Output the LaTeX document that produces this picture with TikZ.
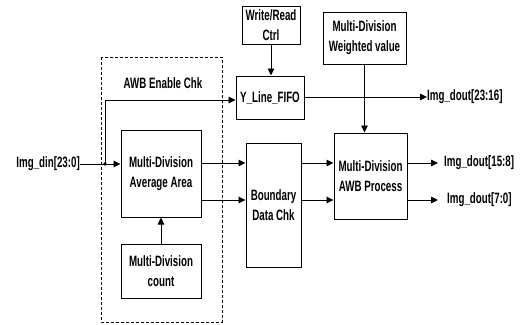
\documentclass[tikz,border=0pt]{standalone}
\usepackage{fontspec}
\setmainfont{Liberation Sans}[FakeStretch=0.65]
\usetikzlibrary{arrows.meta,calc}
\begin{document}
\begin{tikzpicture}[x=1pt,y=-1pt,
  lbl/.style={font=\bfseries\fontsize{15}{20}\selectfont, inner sep=0pt},
  blk/.style={draw, line width=1pt, align=center, lbl},
  arr/.style={line width=0.9pt, -{Triangle[length=7pt,width=6.5pt]}},
  ln/.style={line width=0.9pt}]
\useasboundingbox (0,0) rectangle (529,324);
% dashed enclosure
\draw[dashed, line width=0.8pt, dash pattern=on 3pt off 2pt] (101,57) rectangle (222,322);
\node[lbl] (en) at (163,83) {AWB Enable Chk};
% blocks
\node[blk, minimum width=58pt, minimum height=38pt] (wr) at (271,25) {Write/Read\\Ctrl};
\node[blk, minimum width=68pt, minimum height=43pt] (fifo) at (270,97.5) {Y\_Line\_FIFO};
\node[blk, minimum width=83pt, minimum height=52pt] (wv) at (364.5,38) {Multi-Division\\Weighted value};
\node[blk, minimum width=73pt, minimum height=86pt] (awb) at (370.5,176) {Multi-Division\\AWB Process};
\node[blk, minimum width=80pt, minimum height=87pt] (avg) at (161,173.5) {Multi-Division\\Average Area};
\node[blk, minimum width=55pt, minimum height=124pt] (bnd) at (273.5,205) {Boundary\\Data Chk};
\node[blk, minimum width=80pt, minimum height=54pt] (cnt) at (161,271) {Multi-Division\\count};
% texts
\node[lbl, anchor=east] (din) at (80,164) {Img\_din[23:0]};
\node[lbl, anchor=west] (o1) at (427,97) {Img\_dout[23:16]};
\node[lbl, anchor=west] (o2) at (444,163) {Img\_dout[15:8]};
\node[lbl, anchor=west] (o3) at (447,200) {Img\_dout[7:0]};
% helper coordinates
\coordinate (ya) at (0,163);
\coordinate (yb) at (0,200);
\coordinate (yf) at (0,100);
\coordinate (jn) at (105,164);
\coordinate (ta) at (438,163);
\coordinate (tb) at (438,200);
% connectors
\draw[arr] (din.east) -- (avg.west |- din.east);
\fill (jn) circle (1.8pt);
\draw[arr] (jn) -- (jn |- yf) -- (fifo.west |- yf);
\draw[arr] (wr.south) -- (fifo.north -| wr.south);
\draw[arr] (fifo.east |- o1.west) -- (o1.west);
\draw[arr] (wv.south) -- (awb.north -| wv.south);
\draw[arr] (avg.east |- ya) -- (bnd.west |- ya);
\draw[arr] (avg.east |- yb) -- (bnd.west |- yb);
\draw[arr] (bnd.east |- ya) -- (awb.west |- ya);
\draw[arr] (bnd.east |- yb) -- (awb.west |- yb);
\draw[arr] (awb.east |- ta) -- (ta);
\draw[arr] (awb.east |- tb) -- (tb);
\draw[arr] (cnt.north) -- (avg.south);
\end{tikzpicture}
\end{document}
